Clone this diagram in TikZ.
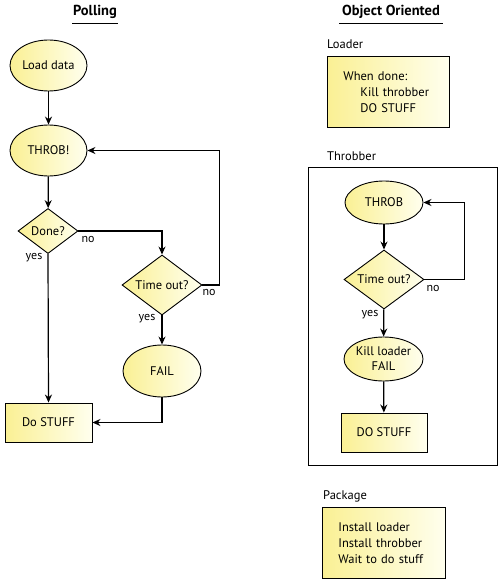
\documentclass[tikz,border=0pt]{standalone}
\usepackage{fontspec}
\setmainfont{PT Sans}
\usetikzlibrary{shapes.geometric,arrows.meta}
\definecolor{fillY}{RGB}{250,240,148}
\definecolor{fillM}{RGB}{252,246,180}
\definecolor{fillW}{RGB}{255,255,238}
\tikzset{
  base/.style={draw=black, line width=0.9pt, left color=fillY, middle color=fillM, right color=fillW, inner sep=0pt,
    font=\fontsize{12.5}{15}\selectfont, align=center},
  oval/.style={base, ellipse},
  decide/.style={base, diamond, aspect=1.33},
  stepbox/.style={base, rectangle},
  infobox/.style={base, rectangle, anchor=north west, align=left, inner xsep=16pt,
    font=\fontsize{12.5}{16}\selectfont},
  conn/.style={line width=1.2pt, -{Stealth[length=8pt,width=7pt]}},
  lbl/.style={font=\fontsize{12}{13}\selectfont, inner sep=0pt},
  captxt/.style={font=\fontsize{12.5}{14}\selectfont, anchor=west, inner sep=0pt},
  ttl/.style={font=\bfseries\fontsize{14.5}{16}\selectfont, inner sep=0pt}
}
\begin{document}
\begin{tikzpicture}[x=1pt,y=-1pt]
\useasboundingbox (0,0) rectangle (500,583);
% titles
\node[ttl] (t1) at (95,12) {Polling};
\draw[line width=1pt] (72,24) -- (118,24);
\node[ttl] (t2) at (391,12) {Object Oriented};
\draw[line width=1pt] (339,24) -- (443,24);

% Polling
\node[oval, minimum width=77, minimum height=51] (load) at (48.5,65.5) {Load data};
\node[oval, minimum width=77, minimum height=51] (throb) at (48.5,150.5) {THROB!};
\node[decide, minimum width=60, minimum height=45] (done) at (48,231) {Done?};
\node[decide, minimum width=80, minimum height=60] (tout) at (162,285) {Time out?};
\node[oval, minimum width=78, minimum height=52] (fail) at (162,371) {FAIL};
\node[stepbox, minimum width=87, minimum height=39] (dostuff) at (48.5,422.5) {Do STUFF};

\draw[conn] (load) -- (throb);
\draw[conn] (throb) -- (done);
\draw[conn] (done.east) -| (tout.north);
\draw[conn] (tout.east) -- ++(17,0) |- (throb.east);
\draw[conn] (tout) -- (fail);
\draw[conn] (fail.south) |- (dostuff.east);
\draw[conn] (done.south) -- (dostuff.north);
\node[lbl] (no1) at (88,239) {no};
\node[lbl] (yes1) at (34,258) {yes};
\node[lbl] (no2) at (209,292) {no};
\node[lbl] (yes2) at (147,319) {yes};

% Object oriented
\node[captxt] (lcap) at (327,44) {Loader};
\node[infobox, minimum width=122, minimum height=71, text width=90] (loader) at (327,56)
  {When done:\\\hspace*{17pt}Kill throbber\\\hspace*{17pt}DO STUFF};

\node[captxt] (tcap) at (327,156) {Throbber};
\node[draw=black, line width=0.9pt, fill=white, minimum width=189, minimum height=298, anchor=north west, inner sep=0pt] (frame) at (307.5,167) {};

\node[oval, minimum width=78, minimum height=43] (throb2) at (384,202.5) {THROB};
\node[decide, minimum width=80, minimum height=59] (tout2) at (384,279.5) {Time out?};
\node[oval, minimum width=79, minimum height=44] (kill) at (383.5,359) {Kill loader\\FAIL};
\node[stepbox, minimum width=86, minimum height=39] (do2) at (384,432.5) {DO STUFF};

\draw[conn] (throb2) -- (tout2);
\draw[conn] (tout2.east) -- ++(40,0) |- (throb2.east);
\draw[conn] (tout2) -- (kill);
\draw[conn] (kill) -- (do2);
\node[lbl] (no3) at (433,288) {no};
\node[lbl] (yes3) at (370,315) {yes};

\node[captxt] (pcap) at (323,496) {Package};
\node[infobox, minimum width=123, minimum height=71, text width=91] (pkg) at (322,507)
  {Install loader\\Install throbber\\Wait to do stuff};
\end{tikzpicture}
\end{document}
